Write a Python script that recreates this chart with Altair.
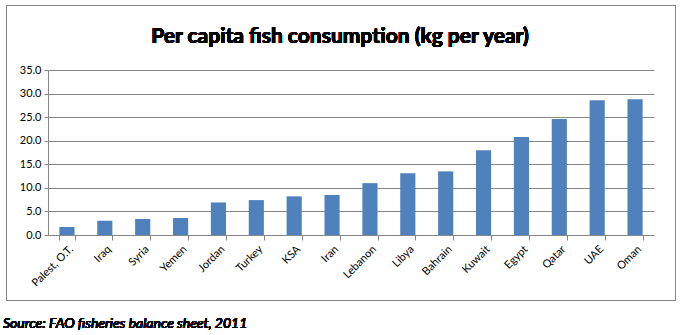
import altair as alt
import pandas as pd

countries = ["Palest, O.T.", "Iraq", "Syria", "Yemen", "Jordan", "Turkey", "KSA", "Iran",
             "Lebanon", "Libya", "Bahrain", "Kuwait", "Egypt", "Qatar", "UAE", "Oman"]
values = [1.7, 3.0, 3.4, 3.6, 6.9, 7.4, 8.2, 8.5, 11.0, 13.1, 13.5, 18.0, 20.8, 24.6, 28.6, 28.8]
y_ticks = [0, 5, 10, 15, 20, 25, 30, 35]
title_text = "Per capita fish consumption (kg per year)"
source_text = "Source: FAO fisheries balance sheet, 2011"

df = pd.DataFrame({"country": countries, "value": values})

FONT = "Lato"
GRID = "#868686"

W, H = 606, 165
L, T = 48, 70

bars = alt.Chart(df).mark_bar(color="#4F81BD").encode(
    x=alt.X("country:N", sort=countries, title=None,
            scale=alt.Scale(paddingInner=0.6, paddingOuter=0.3),
            axis=alt.Axis(labelAngle=-45, labelAlign="right", labelBaseline="top",
                          labelFont=FONT, labelFontSize=11, labelColor="#000000",
                          labelPadding=3, tickBand="extent", tickSize=5,
                          tickColor=GRID, domainColor=GRID, labelOverlap=False,
                          labelFlush=False, labelBound=False)),
    y=alt.Y("value:Q", title=None,
            scale=alt.Scale(domain=[0, 35], nice=False),
            axis=alt.Axis(values=y_ticks, format=".1f", labelFont=FONT, labelFontSize=11,
                          labelColor="#000000", tickSize=4, tickColor=GRID,
                          domainColor=GRID, gridColor=GRID, grid=True, labelPadding=3)),
)

border = alt.Chart(df).mark_rect(fill=None, stroke=GRID, strokeWidth=1).encode(
    x=alt.value(6 - L + 0.5), x2=alt.value(675 - L + 0.5),
    y=alt.value(5 - T + 0.5), y2=alt.value(300 - T + 0.5),
)

title = alt.Chart(df).mark_text(font=FONT, fontSize=21, fontWeight="bold",
                                color="#000000", align="center", baseline="alphabetic").encode(
    x=alt.value(340 - L), y=alt.value(43 - T), text=alt.value(title_text))

source = alt.Chart(df).mark_text(font=FONT, fontSize=14, fontStyle="italic", fontWeight="normal",
                                 color="#000000", align="left", baseline="alphabetic").encode(
    x=alt.value(3 - L), y=alt.value(328 - T), text=alt.value(source_text))

chart = alt.layer(border, bars, title, source).properties(
    width=W, height=H,
    autosize=alt.AutoSizeParams(type="none"),
    padding={"left": L, "top": T, "right": 684 - L - W, "bottom": 335 - T - H},
    background="white",
).configure_view(stroke=None).configure_axis(grid=False)

chart.save("out.html", embed_options={"renderer": "svg", "actions": False})
